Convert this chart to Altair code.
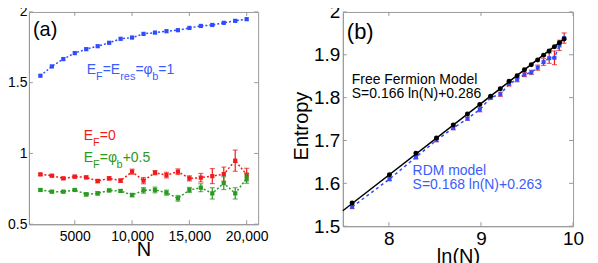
import altair as alt
import pandas as pd
import numpy as np

FONT = "Liberation Sans"
BLUE = "#2f4dff"
RED = "#f01c1c"
GREEN = "#2a9a22"
FRAME = "#9a9a9a"

# ---------------- data ----------------
N = [2000, 3000, 4000, 5000, 6000, 7000, 8000, 9000, 10000, 11000,
     12000, 13000, 14000, 15000, 16000, 17000, 18000, 19000, 20000]

# panel (a)
ent_res = [1.549, 1.615, 1.667, 1.709, 1.737, 1.758, 1.782, 1.810, 1.819, 1.845,
           1.854, 1.864, 1.871, 1.887, 1.901, 1.908, 1.923, 1.937, 1.949]
ent_ef0 = [0.852, 0.843, 0.824, 0.836, 0.831, 0.805, 0.824, 0.808, 0.871, 0.808,
           0.864, 0.847, 0.871, 0.824, 0.829, 0.840, 0.854, 0.949, 0.850]
err_ef0 = [0.008, 0.008, 0.008, 0.010, 0.010, 0.012, 0.012, 0.012, 0.018, 0.022,
           0.015, 0.020, 0.020, 0.018, 0.030, 0.053, 0.050, 0.075, 0.045]
ent_efb = [0.742, 0.730, 0.730, 0.742, 0.711, 0.718, 0.739, 0.735, 0.706, 0.739,
           0.742, 0.723, 0.683, 0.742, 0.758, 0.718, 0.790, 0.718, 0.824]
err_efb = [0.008, 0.008, 0.008, 0.008, 0.012, 0.012, 0.010, 0.010, 0.012, 0.020,
           0.020, 0.018, 0.020, 0.018, 0.028, 0.040, 0.045, 0.040, 0.035]

# panel (b)
ent_ff = [1.554, 1.620, 1.670, 1.706, 1.736, 1.762, 1.784, 1.803, 1.821, 1.838,
          1.851, 1.865, 1.877, 1.888, 1.899, 1.909, 1.919, 1.928, 1.937]
ent_rdm = [1.545, 1.610, 1.661, 1.701, 1.729, 1.751, 1.772, 1.800, 1.808, 1.832,
           1.842, 1.854, 1.859, 1.870, 1.883, 1.892, 1.893, 1.922, 1.939]
err_rdm = [0.004, 0.004, 0.004, 0.004, 0.004, 0.004, 0.005, 0.004, 0.005, 0.005,
           0.005, 0.005, 0.005, 0.006, 0.008, 0.012, 0.016, 0.012, 0.012]
ff_fit_x = [7.5, 9.903]
ff_fit_y = [1.536, 1.937]

xa_ticks = [5000, 10000, 15000, 20000]
xa_labels = ["5000", "10,000", "15,000", "20,000"]
ya_ticks = [0.5, 1.0, 1.5, 2.0]
xb_ticks = [8, 9, 10]
yb_ticks = [1.5, 1.6, 1.7, 1.8, 1.9, 2.0]

# ---------------- frames ----------------
dfa = pd.DataFrame({"N": N, "res": ent_res,
                    "ef0": ent_ef0, "ef0_lo": np.array(ent_ef0) - np.array(err_ef0),
                    "ef0_hi": np.array(ent_ef0) + np.array(err_ef0),
                    "efb": ent_efb, "efb_lo": np.array(ent_efb) - np.array(err_efb),
                    "efb_hi": np.array(ent_efb) + np.array(err_efb)})
dfb = pd.DataFrame({"lnN": np.log(np.array(N, dtype=float)), "ff": ent_ff, "rdm": ent_rdm,
                    "lo": np.array(ent_rdm) - np.array(err_rdm),
                    "hi": np.array(ent_rdm) + np.array(err_rdm)})
dfit = pd.DataFrame({"lnN": ff_fit_x, "ff": ff_fit_y})
ONE = pd.DataFrame({"k": [0]})

WA, HA = 230, 213
WB, HB = 231, 215

W = {'E': .667, 'F': .611, '=': .584, 'r': .333, 'e': .556, 's': .5, 'φ': .62,
     'b': .556, '1': .556, '0': .556, '+': .584, '.': .278, '5': .556}


def rich(segs, x0, y0, color, main=14, sub=11, dy=6):
    out = []
    x = x0
    for txt, is_sub in segs:
        size = sub if is_sub else main
        out.append(alt.Chart(ONE).mark_text(text=txt, align="left", baseline="alphabetic",
                                            fontSize=size, color=color, font=FONT)
                   .encode(x=alt.value(x), y=alt.value(y0 + (dy if is_sub else 0))))
        x += sum(W.get(c, 0.55) for c in txt) * size
    return out


def label(txt, x, y, color="black", size=14):
    return alt.Chart(ONE).mark_text(text=txt, align="left", baseline="alphabetic",
                                    fontSize=size, color=color, font=FONT).encode(
        x=alt.value(x), y=alt.value(y))


def inner_ticks(xt, yt, XF, YF, w, h, L=4):
    dx = pd.DataFrame({"v": xt})
    dy = pd.DataFrame({"v": yt})
    st = dict(color=FRAME, strokeWidth=1)
    return [
        alt.Chart(dx).mark_rule(**st).encode(x=XF("v"), y=alt.value(h), y2=alt.value(h - L)),
        alt.Chart(dx).mark_rule(**st).encode(x=XF("v"), y=alt.value(0), y2=alt.value(L)),
        alt.Chart(dy).mark_rule(**st).encode(y=YF("v"), x=alt.value(0), x2=alt.value(L)),
        alt.Chart(dy).mark_rule(**st).encode(y=YF("v"), x=alt.value(w), x2=alt.value(w - L)),
    ]


# ---------------- panel (a) ----------------
xa_scale = alt.Scale(domain=[1000, 21000], nice=False, zero=False)
ya_scale = alt.Scale(domain=[0.5, 2.0], nice=False, zero=False)
lab_expr = " : ".join(f"datum.value == {v} ? '{l}'" for v, l in zip(xa_ticks, xa_labels)) + " : ''"
axis_xa = alt.Axis(values=xa_ticks, labelExpr=lab_expr, ticks=False, tickSize=0, grid=False,
                   labelFontSize=14, labelPadding=5, labelFlush=False, labelColor="black",
                   domainColor=FRAME, title="N", titleFontSize=20, titleFontWeight="normal",
                   titleColor="black", titleY=31, titleBaseline="alphabetic")
axis_ya = alt.Axis(values=ya_ticks, format="~g", ticks=False, tickSize=0, grid=False,
                   labelFontSize=14, labelPadding=2, labelFlush=False, labelColor="black",
                   domainColor=FRAME, title="Entropy", titleFontSize=20, titleFontWeight="normal",
                   titleColor="black", titleX=-29, titleY=110, titleBaseline="alphabetic")


def XA(f="N"):
    return alt.X(f + ":Q", scale=xa_scale, axis=axis_xa)


def YA(f):
    return alt.Y(f + ":Q", scale=ya_scale, axis=axis_ya)


base_a = alt.Chart(dfa)
layers_a = []
layers_a += inner_ticks(xa_ticks, ya_ticks, XA, YA, WA, HA)
for key, col in [("res", BLUE), ("ef0", RED), ("efb", GREEN)]:
    layers_a.append(base_a.mark_line(color=col, strokeDash=[2, 2], strokeWidth=1.5)
                    .encode(x=XA(), y=YA(key)))
    if key != "res":
        layers_a.append(base_a.mark_rule(color=col, strokeWidth=1.2)
                        .encode(x=XA(), y=YA(key + "_lo"), y2=alt.Y2(key + "_hi")))
        layers_a.append(base_a.mark_tick(color=col, orient="horizontal", size=5, thickness=1.2)
                        .encode(x=XA(), y=YA(key + "_lo")))
        layers_a.append(base_a.mark_tick(color=col, orient="horizontal", size=5, thickness=1.2)
                        .encode(x=XA(), y=YA(key + "_hi")))
    layers_a.append(base_a.mark_square(color=col, size=18, opacity=1)
                    .encode(x=XA(), y=YA(key)))

layers_a.append(label("(a)", 4, 24, size=20))
layers_a += rich([("E", 0), ("F", 1), ("=E", 0), ("res", 1), ("=φ", 0), ("b", 1), ("=1", 0)],
                 58, 62, "#3a5cff")
layers_a += rich([("E", 0), ("F", 1), ("=0", 0)], 55, 128.7, RED)
layers_a += rich([("E", 0), ("F", 1), ("=φ", 0), ("b", 1), ("+0.5", 0)], 55, 151, GREEN)

panel_a = alt.layer(*layers_a).properties(width=WA, height=HA)

# ---------------- panel (b) ----------------
xb_scale = alt.Scale(domain=[7.5, 10], nice=False, zero=False)
yb_scale = alt.Scale(domain=[1.5, 2.0], nice=False, zero=False)
axis_xb = alt.Axis(values=xb_ticks, format="d", ticks=False, tickSize=0, grid=False,
                   labelFontSize=19, labelPadding=3, labelFlush=False, labelColor="black",
                   domainColor=FRAME, title="ln(N)", titleFontSize=20, titleFontWeight="normal",
                   titleColor="black", titleY=36, titleBaseline="alphabetic")
axis_yb = alt.Axis(values=yb_ticks, format="~g", ticks=False, tickSize=0, grid=False,
                   labelFontSize=19, labelPadding=3, labelFlush=False, labelColor="black",
                   domainColor=FRAME, title="Entropy", titleFontSize=20, titleFontWeight="normal",
                   titleColor="black", titleX=-35, titleY=114, titleBaseline="alphabetic")


def XB(f="lnN"):
    return alt.X(f + ":Q", scale=xb_scale, axis=axis_xb)


def YB(f):
    return alt.Y(f + ":Q", scale=yb_scale, axis=axis_yb)


base_b = alt.Chart(dfb)
layers_b = []
layers_b += inner_ticks(xb_ticks, yb_ticks, XB, YB, WB, HB)
layers_b.append(base_b.mark_line(color=BLUE, strokeDash=[3, 3], strokeWidth=1.5)
                .encode(x=XB(), y=YB("rdm")))
layers_b.append(base_b.mark_rule(color=RED, strokeWidth=1.2)
                .encode(x=XB(), y=YB("lo"), y2=alt.Y2("hi")))
layers_b.append(base_b.mark_tick(color=RED, orient="horizontal", size=5, thickness=1.2)
                .encode(x=XB(), y=YB("lo")))
layers_b.append(base_b.mark_tick(color=RED, orient="horizontal", size=5, thickness=1.2)
                .encode(x=XB(), y=YB("hi")))
layers_b.append(base_b.mark_square(color=BLUE, size=16, opacity=1)
                .encode(x=XB(), y=YB("rdm")))
layers_b.append(alt.Chart(dfit).mark_line(color="black", strokeWidth=1.5)
                .encode(x=XB(), y=YB("ff")))
layers_b.append(base_b.mark_circle(color="black", size=25, opacity=1)
                .encode(x=XB(), y=YB("ff")))

layers_b.append(label("(b)", 4, 27, size=22))
layers_b.append(label("Free Fermion Model", 9, 72))
layers_b.append(label("S=0.166 ln(N)+0.286", 9, 86))
layers_b.append(label("RDM model", 70, 163.7, color="#3a5cff"))
layers_b.append(label("S=0.168 ln(N)+0.263", 70, 178, color="#3a5cff"))

panel_b = alt.layer(*layers_b).properties(width=WB, height=HB)

chart = alt.hconcat(panel_a, panel_b, spacing=85, bounds="flush").properties(
    padding={"left": -25, "top": -6.5, "right": 5, "bottom": 5}
).configure(font=FONT).configure_view(stroke=FRAME, strokeWidth=1)

chart.save("out.html", embed_options={"renderer": "svg", "actions": False})
